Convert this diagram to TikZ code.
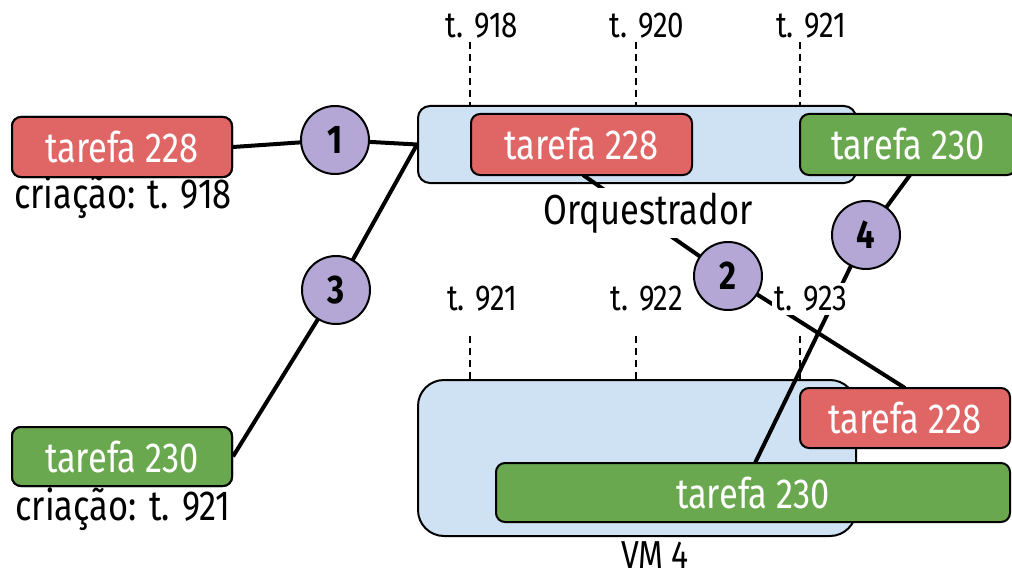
\documentclass[tikz,border=0pt]{standalone}
\usepackage{fontspec}
\setmainfont{Fira Sans}[FakeStretch=0.82]
\definecolor{vmblue}{HTML}{CFE2F3}
\definecolor{taskred}{HTML}{E06666}
\definecolor{taskgreen}{HTML}{6AA84F}
\definecolor{stepviolet}{HTML}{B4A7D6}
\tikzset{
  container/.style={draw=black, line width=2pt, fill=vmblue, rounded corners=12pt, inner sep=0pt},
  taskbox/.style={draw=black, line width=2pt, rounded corners=9pt, inner sep=0pt, text=white, font=\fontsize{42}{48}\selectfont},
  redtask/.style={taskbox, fill=taskred},
  greentask/.style={taskbox, fill=taskgreen},
  stepnum/.style={circle, draw=black, line width=2pt, fill=stepviolet, minimum size=68pt, inner sep=0pt, font=\fontsize{40}{44}\selectfont\bfseries},
  link/.style={draw=black, line width=4pt},
  tick/.style={draw=black, line width=1.5pt, dash pattern=on 7pt off 5pt},
  timelabel/.style={fill=white, inner sep=3pt, font=\fontsize{36}{42}\selectfont},
  plainlabel/.style={fill=white, inner sep=5pt, font=\fontsize{42}{48}\selectfont},
  caption/.style={inner sep=0pt, font=\fontsize{42}{48}\selectfont},
}
\begin{document}
\begin{tikzpicture}[x=1pt,y=-1pt]
\useasboundingbox (0,0) rectangle (1012,575);
\clip (0,0) rectangle (1012,575);
% containers
\node[container, minimum width=438pt, minimum height=77pt] (orch) at (637,144.5) {};
\node[container, rounded corners=26pt, minimum width=438pt, minimum height=156pt] (vm) at (637,458) {};
% dashed ticks
\coordinate (ta1) at (470,42);  \coordinate (tb1) at (470,106);
\coordinate (ta2) at (636,42);  \coordinate (tb2) at (636,106);
\coordinate (ta3) at (800,42);  \coordinate (tb3) at (800,106);
\coordinate (ua1) at (470,336); \coordinate (ub1) at (470,380);
\coordinate (ua2) at (636,336); \coordinate (ub2) at (636,380);
\coordinate (ua3) at (800,336); \coordinate (ub3) at (800,380);
\foreach \i in {1,2,3} {
  \draw[tick] (ta\i) -- (tb\i);
  \draw[tick] (ua\i) -- (ub\i);
}
% left task boxes
\node[redtask, minimum width=220pt, minimum height=60pt] (l228) at (122,147) {tarefa 228};
\node[greentask, minimum width=220pt, minimum height=59pt] (l230) at (122,456.5) {tarefa 230};
% step circle positions and link ends
\coordinate (p1) at (335,140);
\coordinate (p2) at (728,276);
\coordinate (p3) at (336,290);
\coordinate (p4) at (866,235);
\coordinate (o228s) at (583,175);
\coordinate (vm228n) at (905,388);
\coordinate (g230s) at (910,175);
\coordinate (vg230n) at (755,463);
% links
\draw[link] (l228.east) -- (p1) -- (orch.west);
\draw[link] (l230.east) -- (p3) -- (orch.west);
\draw[link] (o228s) -- (p2) -- (vm228n);
\draw[link] (g230s) -- (p4) -- (vg230n);
% labels
\node[plainlabel] (orchlbl) at (648,213) {Orquestrador};
\node[timelabel] (t918) at (482,26) {t. 918};
\node[timelabel] (t920) at (647,26) {t. 920};
\node[timelabel] (t921a) at (811,26) {t. 921};
\node[timelabel] (t921b) at (482,299) {t. 921};
\node[timelabel] (t922) at (647,299) {t. 922};
\node[timelabel] (t923) at (811,299) {t. 923};
\node[caption] (c918) at (123,197) {criação: t. 918};
\node[caption] (c921) at (123,509) {criação: t. 921};
\node[caption, font=\fontsize{39}{44}\selectfont] (vmlbl) at (655,555) {VM 4};
% task boxes inside containers
\node[redtask, minimum width=221pt, minimum height=61pt] (o228) at (581.5,144.5) {tarefa 228};
\node[greentask, minimum width=216pt, minimum height=61pt] (g230) at (908,144.5) {tarefa 230};
\node[redtask, minimum width=210pt, minimum height=60pt] (v228) at (905,418) {tarefa 228};
\node[greentask, minimum width=514pt, minimum height=59pt] (v230) at (753,492.5) {tarefa 230};
% left boxes on top of links
\node[redtask, minimum width=220pt, minimum height=60pt] at (l228) {tarefa 228};
\node[greentask, minimum width=220pt, minimum height=59pt] at (l230) {tarefa 230};
% circles
\node[stepnum] (s1) at (p1) {1};
\node[stepnum] (s2) at (p2) {2};
\node[stepnum] (s3) at (p3) {3};
\node[stepnum] (s4) at (p4) {4};
\end{tikzpicture}
\end{document}
